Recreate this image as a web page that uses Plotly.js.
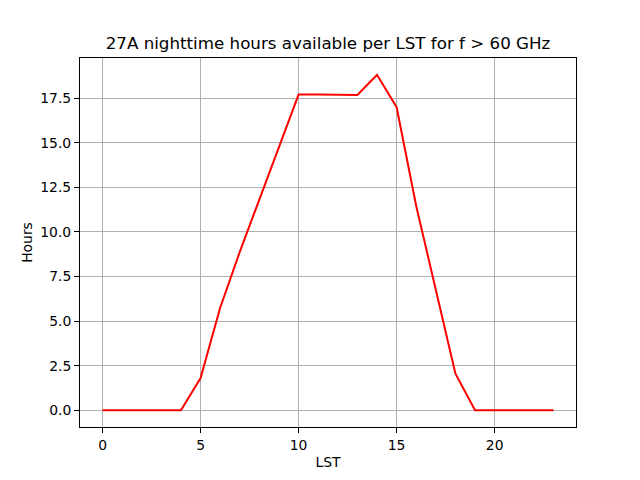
<!DOCTYPE html>
<html>
<head>
<meta charset="utf-8">
<script src="https://cdn.plot.ly/plotly-3.0.1.min.js"></script>
<style>
  html, body { margin: 0; padding: 0; background: #fff; }
  #plot { width: 640px; height: 480px; }
</style>
</head>
<body>
<div id="plot"></div>
<script>
const lst = [0, 1, 2, 3, 4, 5, 6, 7, 8, 9, 10, 11, 12, 13, 14, 15, 16, 17, 18, 19, 20, 21, 22, 23]
const hours = [0, 0, 0, 0, 0, 1.8, 5.75, 8.88, 11.85, 14.8, 17.7, 17.7, 17.7, 17.68, 18.81, 16.99, 11.45, 6.78, 2.05, 0, 0, 0, 0, 0]
const xTicks = [0, 5, 10, 15, 20]
const yTicks = [0, 2.5, 5, 7.5, 10, 12.5, 15, 17.5]

const font = { family: 'DejaVu Sans', size: 13.9, color: '#000' }

const traces = [{
  x: lst,
  y: hours,
  type: 'scatter',
  mode: 'lines',
  line: { color: '#ff0000', width: 2 },
  hoverinfo: 'none'
}]

const axisCommon = {
  showline: true,
  linecolor: '#000',
  linewidth: 1,
  mirror: true,
  ticks: 'outside',
  ticklen: 5,
  tickwidth: 1,
  tickcolor: '#000',
  showgrid: true,
  gridcolor: '#b0b0b0',
  gridwidth: 1,
  zeroline: false,
  tickfont: font
}

const layout = {
  width: 640,
  height: 480,
  paper_bgcolor: '#fff',
  plot_bgcolor: '#fff',
  showlegend: false,
  margin: { l: 80, r: 64, t: 58, b: 53 },
  font: font,
  title: {
    text: '27A nighttime hours available per LST for f > 60 GHz',
    font: { family: 'DejaVu Sans', size: 16.7, color: '#000' },
    x: 0.5,
    xref: 'paper',
    y: 1 - 43 / 480,
    yref: 'container',
    yanchor: 'middle'
  },
  xaxis: Object.assign({}, axisCommon, {
    range: [-1.15, 24.15],
    tickvals: xTicks,
    title: { text: 'LST', font: font, standoff: 5 }
  }),
  yaxis: Object.assign({}, axisCommon, {
    range: [-0.9405, 19.7505],
    tickvals: yTicks,
    tickformat: '.1f',
    title: { text: 'Hours', font: font, standoff: 4 }
  })
}

Plotly.newPlot('plot', traces, layout, { staticPlot: true, displayModeBar: false })
</script>
</body>
</html>
